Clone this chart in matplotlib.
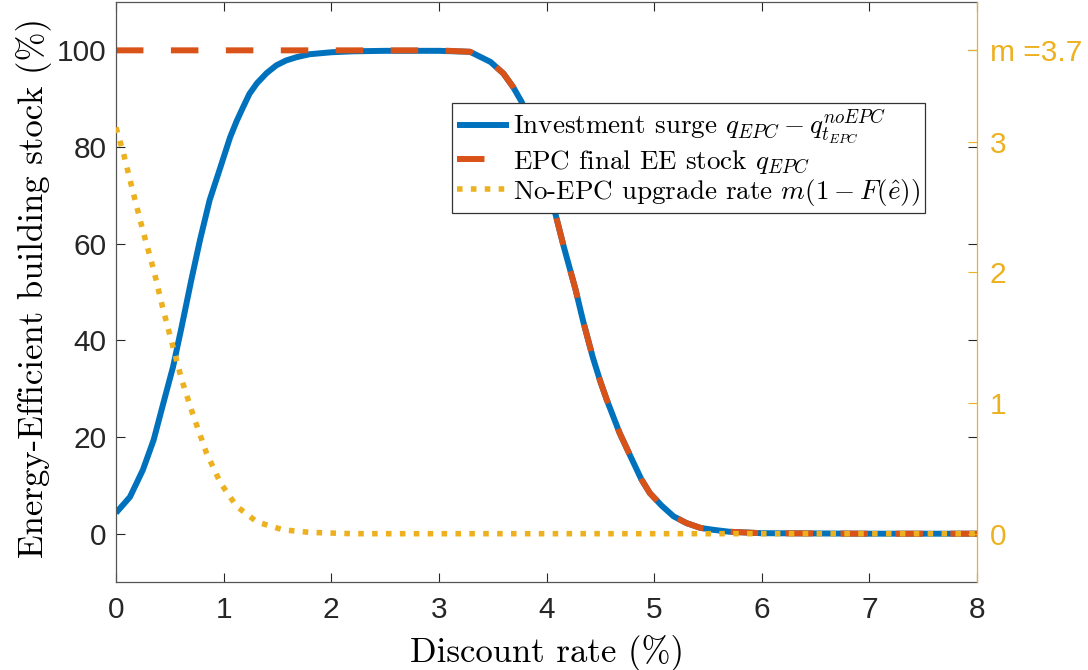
import matplotlib
matplotlib.use("Agg")
import matplotlib.pyplot as plt

plt.rcParams['mathtext.fontset'] = 'cm'
plt.rcParams['font.family'] = ['Liberation Sans', 'DejaVu Sans']

# Discount rate (%) and investment surge (% of stock)
rate_surge = [0, 0.13, 0.25, 0.35, 0.44, 0.53, 0.61, 0.70, 0.78, 0.87, 0.97, 1.06, 1.12,
              1.18, 1.24, 1.31, 1.40, 1.49, 1.58, 1.68, 1.80, 2.0, 2.2, 2.5, 3.0, 3.29,
              3.48, 3.60, 3.69, 3.77, 3.92, 4.08, 4.16, 4.27, 4.34, 4.43, 4.50, 4.56,
              4.68, 4.81, 4.88, 4.96, 5.07, 5.18, 5.30, 5.43, 5.55, 5.7, 6.0, 7.0, 8.0]
surge = [4.3, 7.6, 13.2, 19.4, 27, 34.5, 42.8, 52.5, 60.7, 69, 75.8, 82, 85.3,
         88.2, 91.0, 93.2, 95.3, 96.9, 97.9, 98.6, 99.2, 99.6, 99.8, 99.9, 99.9, 99.7,
         97.6, 95.2, 92.4, 89.3, 79.5, 66.4, 59.4, 50.5, 44.0, 36.5, 31.5, 27.7,
         20.8, 14.6, 11.3, 8.4, 5.8, 3.6, 2.2, 1.2, 0.8, 0.4, 0.1, 0, 0]

# EPC final EE stock (%)
rate_epc = [0, 1, 2, 3, 3.29, 3.48, 3.60, 3.69, 3.77, 3.92, 4.08, 4.16, 4.27, 4.34,
            4.43, 4.50, 4.56, 4.68, 4.81, 4.88, 4.96, 5.07, 5.18, 5.30, 5.43, 5.55,
            5.7, 6.0, 7.0, 8.0]
epc_stock = [100, 100, 100, 100, 99.7, 97.6, 95.2, 92.4, 89.3, 79.5, 66.4, 59.4, 50.5, 44.0,
             36.5, 31.5, 27.7, 20.8, 14.6, 11.3, 8.4, 5.8, 3.6, 2.2, 1.2, 0.8,
             0.4, 0.1, 0, 0]

# No-EPC upgrade rate m(1-F(e)), right axis
m = 3.7
rate_noepc = [0, 0.07, 0.16, 0.25, 0.35, 0.44, 0.53, 0.61, 0.72, 0.84, 0.97, 1.12,
              1.31, 1.55, 1.8, 2.2, 8.0]
upgrade = [3.11, 2.91, 2.61, 2.32, 2.02, 1.71, 1.43, 1.18, 0.90, 0.62, 0.39, 0.21,
           0.09, 0.03, 0.01, 0, 0]

right_ticks = [0, 1, 2, 3, m]
right_labels = ['0', '1', '2', '3', 'm =3.7']

blue = '#0072BD'
orange = '#D95319'
yellow = '#EDB120'
dark = '#262626'
cm_font = 'cmr10'

fig = plt.figure(figsize=(10.88, 6.70), dpi=100)
ax = fig.add_axes([0.1066, 0.1313, 0.7914, 0.8657])
ax2 = ax.twinx()

l1, = ax.plot(rate_surge, surge, color=blue, lw=4.3, solid_capstyle='butt',
              label=r'Investment surge $q_{EPC} - q^{noEPC}_{t_{EPC}}$')
l2, = ax.plot(rate_epc, epc_stock, color=orange, lw=4.3, dashes=(4.6, 4.6),
              dash_capstyle='butt', label=r'EPC final EE stock $q_{EPC}$')
l3, = ax2.plot(rate_noepc, upgrade, color=yellow, lw=4.0, dashes=(1.0, 1.5),
               dash_capstyle='butt', label=r'No-EPC upgrade rate $m(1-F(\hat{e}))$')

ax.set_xlim(0, 8)
ax.set_ylim(-10, 110)
ax2.set_ylim(-10 * m / 100, 110 * m / 100)
ax.set_xticks(range(0, 9))
ax.set_yticks([0, 20, 40, 60, 80, 100])
ax2.set_yticks(right_ticks)
ax2.set_yticklabels(right_labels)

ax.tick_params(axis='both', direction='in', length=6.5, width=0.8, colors=dark,
               labelsize=21.5, top=True, right=True)
ax.tick_params(axis='x', pad=10)
ax.tick_params(axis='y', pad=7)
ax2.tick_params(axis='y', direction='in', length=6.5, width=0.8, colors=yellow,
                labelsize=21.5, pad=9)

for s in ['left', 'bottom', 'top']:
    ax.spines[s].set_color('#555555')
    ax.spines[s].set_linewidth(0.9)
ax.spines['right'].set_visible(False)
for s in ['left', 'bottom', 'top']:
    ax2.spines[s].set_visible(False)
ax2.spines['right'].set_color(yellow)
ax2.spines['right'].set_linewidth(0.9)

ax.set_xlabel('Discount rate (%)', fontsize=25, family=cm_font, color='black')
ax.set_ylabel('Energy-Efficient building stock (%)', fontsize=25, family=cm_font, color='black')
ax.xaxis.set_label_coords(0.5006, -0.091)
ax.yaxis.set_label_coords(-0.0743, 0.507)

leg = ax2.legend(handles=[l1, l2, l3], loc='upper left', bbox_to_anchor=(0.390, 0.826),
                 borderaxespad=0, fancybox=False, framealpha=1, edgecolor='#333333',
                 prop={'family': cm_font, 'size': 19.5}, handlelength=1.9,
                 handletextpad=0.15, labelspacing=0.05, borderpad=0.2)
leg.get_frame().set_linewidth(0.9)

fig.savefig('out.png', dpi=100)
